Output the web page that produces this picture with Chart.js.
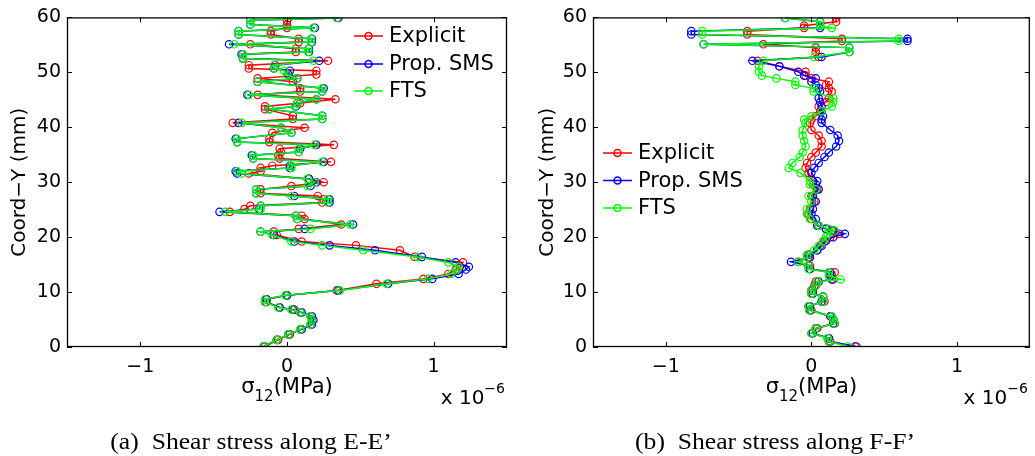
<!DOCTYPE html>
<html>
<head>
<meta charset="utf-8">
<script src="https://cdn.jsdelivr.net/npm/chart.js@4/dist/chart.umd.min.js"></script>
<style>
  body { margin: 0; background: #fff; width: 1035px; height: 456px; overflow: hidden; }
  canvas { position: absolute; top: 0; }
  #left { left: 0; }
  #right { left: 517px; }
</style>
</head>
<body>
<canvas id="left" width="517" height="456"></canvas>
<canvas id="right" width="518" height="456"></canvas>
<script>
// values in units of 1e-6 MPa, y in mm
const seriesNames = ['Explicit', 'Prop. SMS', 'FTS'];
const seriesColors = ['#ff0000', '#0000ff', '#00ff00'];
const xTicks = [-1, 0, 1];
const yTicks = [0, 10, 20, 30, 40, 50, 60];

// E-E'
const yLeft = [0.1,1.3,2.3,3.2,4.1, 4.9,5.6,6.3,6.8,7.2, 8.2,8.7,9.4,10.3,11.5, 12.4,13.3,14.1,14.6,15.4,
  16.4,17.6,18.5,19.2,20.4, 21.0,21.5,22.3,23.3,23.9, 24.6,25.1,25.7,26.3,26.9, 27.5,28.0,28.7,29.3,30.0,
  30.6,31.6,32.0,32.6,33.0, 33.7,34.3,34.9,35.5,36.1, 36.8,37.3,37.9,39.0,39.9, 40.8,41.5,42.1,43.3,43.8,
  44.4,45.1,45.9,46.5,47.1, 48.3,48.9,49.6,50.3,50.7, 51.3,52.1,52.5,53.3,53.7, 54.3,55.1,55.5,56.1,56.9,
  57.5,58.1,58.7,59.5,59.9];
const explicitLeft = [-0.15,-0.06,0.02,0.09,0.16, 0.17,0.16,0.09,0.05,-0.05, -0.14,-0.14,0.00,0.34,0.61,
  0.93,1.10,1.15,1.18,1.20, 0.87,0.77,0.47,0.10,-0.07, -0.09,0.08,0.37,0.12,0.10, -0.39,-0.29,-0.25,0.24,0.25,
  0.21,-0.18,-0.18,0.03,0.25, 0.15,-0.26,-0.18,-0.18,-0.10, 0.30,-0.05,-0.06,-0.04,-0.05, 0.32,-0.12,-0.12,-0.10,0.12,
  -0.37,0.04,0.04,-0.15,-0.15, 0.09,0.33,-0.20,0.09,0.09, 0.04,-0.20,0.20,0.20,-0.26, -0.26,0.28,-0.30,-0.30,0.06,
  0.06,-0.25,0.08,0.08,-0.11, -0.11,0.00,0.00,0.00,0.01];
const smsLeft = [-0.16,-0.07,0.01,0.10,0.17, 0.18,0.17,0.10,0.04,-0.05, -0.15,-0.14,0.00,0.35,0.69,
  0.99,1.17,1.22,1.24,1.15, 0.92,0.60,0.29,0.05,-0.09, -0.18,0.12,0.45,0.07,0.06, -0.46,-0.19,-0.18,0.29,0.29,
  0.05,-0.21,-0.21,0.16,0.20, 0.15,-0.34,-0.35,0.02,0.02, 0.25,-0.23,-0.24,0.08,0.09, 0.20,-0.34,-0.35,0.03,-0.04,
  -0.33,0.24,0.24,-0.12,0.06, 0.07,0.20,-0.27,0.24,0.25, -0.20,0.07,0.01,0.02,-0.09, -0.08,0.22,-0.30,-0.31,0.15,
  0.15,-0.395,0.17,0.17,-0.33, -0.33,0.19,-0.25,-0.25,0.35];
const ftsLeft = [-0.16,-0.07,0.01,0.09,0.16, 0.17,0.16,0.09,0.03,-0.06, -0.15,-0.15,-0.01,0.36,0.68,
  0.96,1.12,1.16,1.17,1.10, 0.89,0.52,0.24,0.03,-0.10, -0.18,0.16,0.43,0.07,0.06, -0.42,-0.18,-0.18,0.28,0.28,
  0.03,-0.21,-0.21,0.14,0.19, 0.14,-0.31,-0.34,0.03,0.03, 0.24,-0.23,-0.23,0.08,0.08, 0.19,-0.34,-0.34,0.03,-0.04,
  -0.31,0.24,0.24,-0.12,0.055, 0.07,0.20,-0.26,0.24,0.24, -0.20,0.066,0.00,-0.02,-0.087, -0.087,0.18,-0.30,-0.30,0.145,
  0.145,-0.36,0.165,0.165,-0.33, -0.33,0.18,-0.25,-0.25,0.34];

// F-F'
const yRight = [0.1,1.0,1.6,2.5,3.4, 4.3,5.0,5.6,6.7,7.4, 8.3,9.2,9.7,10.3,11.2, 11.9,12.3,13.0,13.6,14.2,
  14.8,15.5,16.3,16.8,17.6, 18.4,19.3,20.0,20.6,21.2, 21.5,22.1,23.3,24.2,25.1, 26.5,27.5,28.7,29.6,30.2,
  31.7,32.6,33.5,34.6,35.4, 36.5,37.5,38.5,39.5,40.8, 41.4,42.0,42.9,43.8,44.6, 45.3,46.5,47.1,47.7,48.3,
  48.9,49.4,50.1,51.1,52.1, 52.8,53.7,54.5,55.1,55.7, 56.1,56.9,57.5,58.1,58.5, 59.2,59.9];
const explicitRight = [0.31,0.13,0.12,0.00,0.04, 0.16,0.15,0.13,0.00,-0.02, 0.09,0.08,0.00,0.01,0.02,
  0.03,0.15,0.14,0.16,-0.01, -0.01,-0.09,-0.02,-0.01,0.04, 0.06,0.09,0.13,0.19,0.14, 0.10,0.05,0.00,-0.02,-0.01,
  0.02,0.00,0.04,0.01,0.01, -0.02,-0.04,-0.03,0.00,0.03, 0.07,0.07,0.05,0.00,-0.01, 0.00,0.03,0.06,0.05,0.10,
  0.12,0.14,0.12,0.10,0.12, 0.00,-0.04,-0.04,-0.22,-0.37, 0.05,0.03,0.03,-0.33,0.21, 0.21,-0.44,-0.44,-0.05,-0.05,
  0.17,0.17];
const smsRight = [0.30,0.12,0.12,0.01,0.03, 0.15,0.15,0.13,-0.01,-0.01, 0.07,0.08,0.01,0.00,0.03,
  0.05,0.14,0.13,0.13,-0.01, -0.02,-0.14,-0.01,-0.02,0.04, 0.07,0.10,0.15,0.23,0.15, 0.10,0.04,0.03,0.00,0.01,
  0.03,0.01,0.05,0.03,0.04, 0.00,0.02,0.05,0.09,0.12, 0.17,0.19,0.18,0.13,0.07, 0.07,0.08,0.07,0.07,0.06,
  0.05,0.06,0.05,0.03,0.00, 0.03,-0.05,-0.09,-0.22,-0.405, 0.07,0.26,0.26,-0.74,0.66, 0.66,-0.825,-0.825,0.06,0.06,
  0.06,-0.18];
const ftsRight = [0.25,0.12,0.11,0.00,0.03, 0.16,0.15,0.14,-0.015,-0.02, 0.08,0.08,0.00,0.00,0.03,
  0.04,0.20,0.12,0.12,-0.02, -0.02,-0.09,-0.03,-0.03,0.02, 0.05,0.08,0.10,0.11,0.16, 0.12,0.05,-0.01,-0.03,-0.03,
  0.00,-0.02,0.03,-0.01,-0.01, -0.075,-0.155,-0.13,-0.08,-0.06, -0.04,-0.05,-0.06,-0.06,-0.04, -0.05,0.00,0.07,0.14,0.15,
  0.15,0.015,0.015,-0.11,-0.11, -0.24,-0.34,-0.36,-0.36,-0.33, 0.02,0.26,0.26,-0.74,0.60, 0.60,-0.75,-0.75,0.14,0.06,
  0.06,-0.18];

const SANS = '"DejaVu Sans", sans-serif';

function fmtTick(v) {
  return v < 0 ? '\u2212' + Math.abs(v) : String(v);
}

// draws a row of text pieces (for sub/superscripts)
function drawParts(ctx, parts, x, baseline, align) {
  let total = 0;
  parts.forEach(p => { ctx.font = p.size + 'px ' + SANS; p.w = ctx.measureText(p.text).width; total += p.w; });
  let cx = align === 'right' ? x - total : x - total / 2;
  ctx.textAlign = 'left';
  ctx.textBaseline = 'alphabetic';
  parts.forEach(p => {
    ctx.font = p.size + 'px ' + SANS;
    ctx.fillText(p.text, cx, baseline + p.dy);
    cx += p.w;
  });
}

const framePlugin = {
  id: 'frame',
  afterDraw(chart, args, o) {
    const ctx = chart.ctx;
    const a = chart.chartArea;
    const xs = chart.scales.x, ys = chart.scales.y;
    ctx.save();
    ctx.strokeStyle = '#000';
    ctx.fillStyle = '#000';
    ctx.lineWidth = 1.3;
    ctx.strokeRect(a.left + 0.5, a.top + 0.5, a.right - a.left - 1, a.bottom - a.top - 1);

    // inward ticks on all four sides
    ctx.lineWidth = 1;
    ctx.beginPath();
    xs.ticks.forEach(t => {
      const px = Math.round(xs.getPixelForValue(t.value)) + 0.5;
      ctx.moveTo(px, a.bottom); ctx.lineTo(px, a.bottom - 5);
      ctx.moveTo(px, a.top); ctx.lineTo(px, a.top + 5);
    });
    ys.ticks.forEach(t => {
      const py = Math.round(ys.getPixelForValue(t.value)) + 0.5;
      ctx.moveTo(a.left, py); ctx.lineTo(a.left + 5, py);
      ctx.moveTo(a.right, py); ctx.lineTo(a.right - 5, py);
    });
    ctx.stroke();

    // legend
    chart.data.datasets.forEach((ds, i) => {
      const y = o.legendY[i];
      ctx.strokeStyle = ds.borderColor;
      ctx.lineWidth = 1.5;
      ctx.beginPath();
      ctx.moveTo(o.legendX, y); ctx.lineTo(o.legendX + 29, y);
      ctx.stroke();
      ctx.beginPath();
      ctx.arc(o.legendX + 14.5, y, 3.5, 0, Math.PI * 2);
      ctx.stroke();
      ctx.fillStyle = '#000';
      ctx.font = '21px ' + SANS;
      ctx.textAlign = 'left';
      ctx.textBaseline = 'middle';
      ctx.fillText(ds.label, o.legendX + 35, y + 1);
    });

    // y title
    ctx.save();
    ctx.translate(o.yTitleX, (a.top + a.bottom) / 2);
    ctx.rotate(-Math.PI / 2);
    ctx.font = '20px ' + SANS;
    ctx.textAlign = 'center';
    ctx.textBaseline = 'middle';
    ctx.fillText('Coord\u2212Y (mm)', 0, 0);
    ctx.restore();

    // x title and exponent
    drawParts(ctx, [
      { text: '\u03c3', size: 21, dy: 0 },
      { text: '12', size: 15, dy: 8 },
      { text: '(MPa)', size: 21, dy: 0 }
    ], (a.left + a.right) / 2, 393);
    drawParts(ctx, [
      { text: 'x 10', size: 20, dy: 0 },
      { text: '\u22126', size: 14, dy: -11 }
    ], a.right - 2, 404, 'right');

    // caption
    ctx.save();
    ctx.translate(o.captionX, 449);
    ctx.scale(1.14, 1);
    ctx.font = '22.5px "Liberation Serif", "Times New Roman", serif';
    ctx.textAlign = 'center';
    ctx.textBaseline = 'alphabetic';
    ctx.fillText(o.caption, 0, 0);
    ctx.restore();

    ctx.restore();
  }
};

function makeChart(id, yVals, seriesX, yWidth, padRight, o) {
  const datasets = seriesX.map((xs, i) => ({
    label: seriesNames[i],
    data: xs.map((v, k) => ({ x: v, y: yVals[k] })),
    borderColor: seriesColors[i],
    backgroundColor: 'transparent',
    pointBackgroundColor: 'transparent',
    pointBorderColor: seriesColors[i],
    pointRadius: 3.7,
    pointBorderWidth: 1.2,
    borderWidth: 1.5,
    showLine: true,
    order: 3 - i
  }));
  return new Chart(document.getElementById(id), {
    type: 'scatter',
    data: { datasets },
    plugins: [framePlugin],
    options: {
      responsive: false,
      animation: false,
      layout: { padding: { top: 15, right: padRight, left: 0, bottom: 0 } },
      plugins: {
        legend: { display: false },
        tooltip: { enabled: false },
        frame: o
      },
      scales: {
        x: {
          type: 'linear', min: -1.5, max: 1.5,
          afterBuildTicks: s => { s.ticks = xTicks.map(v => ({ value: v })); },
          afterFit: s => { s.height = 109; },
          grid: { display: false, drawTicks: false },
          border: { display: false },
          ticks: { padding: 9, color: '#000', font: { family: SANS, size: 19 }, callback: fmtTick, maxRotation: 0 }
        },
        y: {
          type: 'linear', min: 0, max: 60,
          afterBuildTicks: s => { s.ticks = yTicks.map(v => ({ value: v })); },
          afterFit: s => { s.width = yWidth; },
          grid: { display: false, drawTicks: false },
          border: { display: false },
          ticks: { padding: 6, color: '#000', font: { family: SANS, size: 19 }, callback: fmtTick }
        }
      }
    }
  });
}

makeChart('left', yLeft, [explicitLeft, smsLeft, ftsLeft], 67, 10, {
  legendX: 354, legendY: [36, 64, 91], yTitleX: 20, captionX: 251,
  caption: '(a)  Shear stress along E-E\u2019'
});
makeChart('right', yRight, [explicitRight, smsRight, ftsRight], 76, 3, {
  legendX: 86, legendY: [153, 180.5, 208], yTitleX: 31, captionX: 258,
  caption: '(b)  Shear stress along F-F\u2019'
});
</script>
</body>
</html>
